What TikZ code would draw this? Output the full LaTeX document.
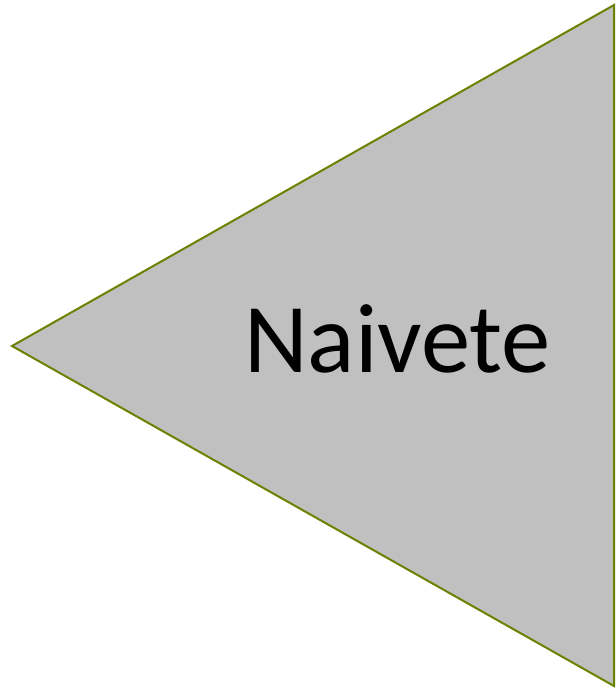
\documentclass[tikz,border=0pt]{standalone}
\usepackage{fontspec}
\setmainfont{Carlito}
\usepackage{tikz}
\definecolor{WedgeLine}{RGB}{105,130,0}
\definecolor{WedgeFill}{RGB}{192,192,192}
\tikzset{
  wedge/.style = {draw=WedgeLine, fill=WedgeFill, line width=2bp, line join=miter},
  lbl/.style   = {font=\fontsize{99}{110}\selectfont, text=black, inner sep=0pt}
}
\begin{document}
\begin{tikzpicture}[x=1bp, y=-1bp]
\useasboundingbox (0,0) rectangle (616,692);
\coordinate (tip) at (12,346);
\coordinate (top) at (614,5);
\coordinate (bot) at (614,686);
\draw[wedge] (tip) -- (top) -- (bot) -- cycle;
\node[lbl, anchor=base] (name) at (397.5,372) {Naivete};
\end{tikzpicture}
\end{document}
